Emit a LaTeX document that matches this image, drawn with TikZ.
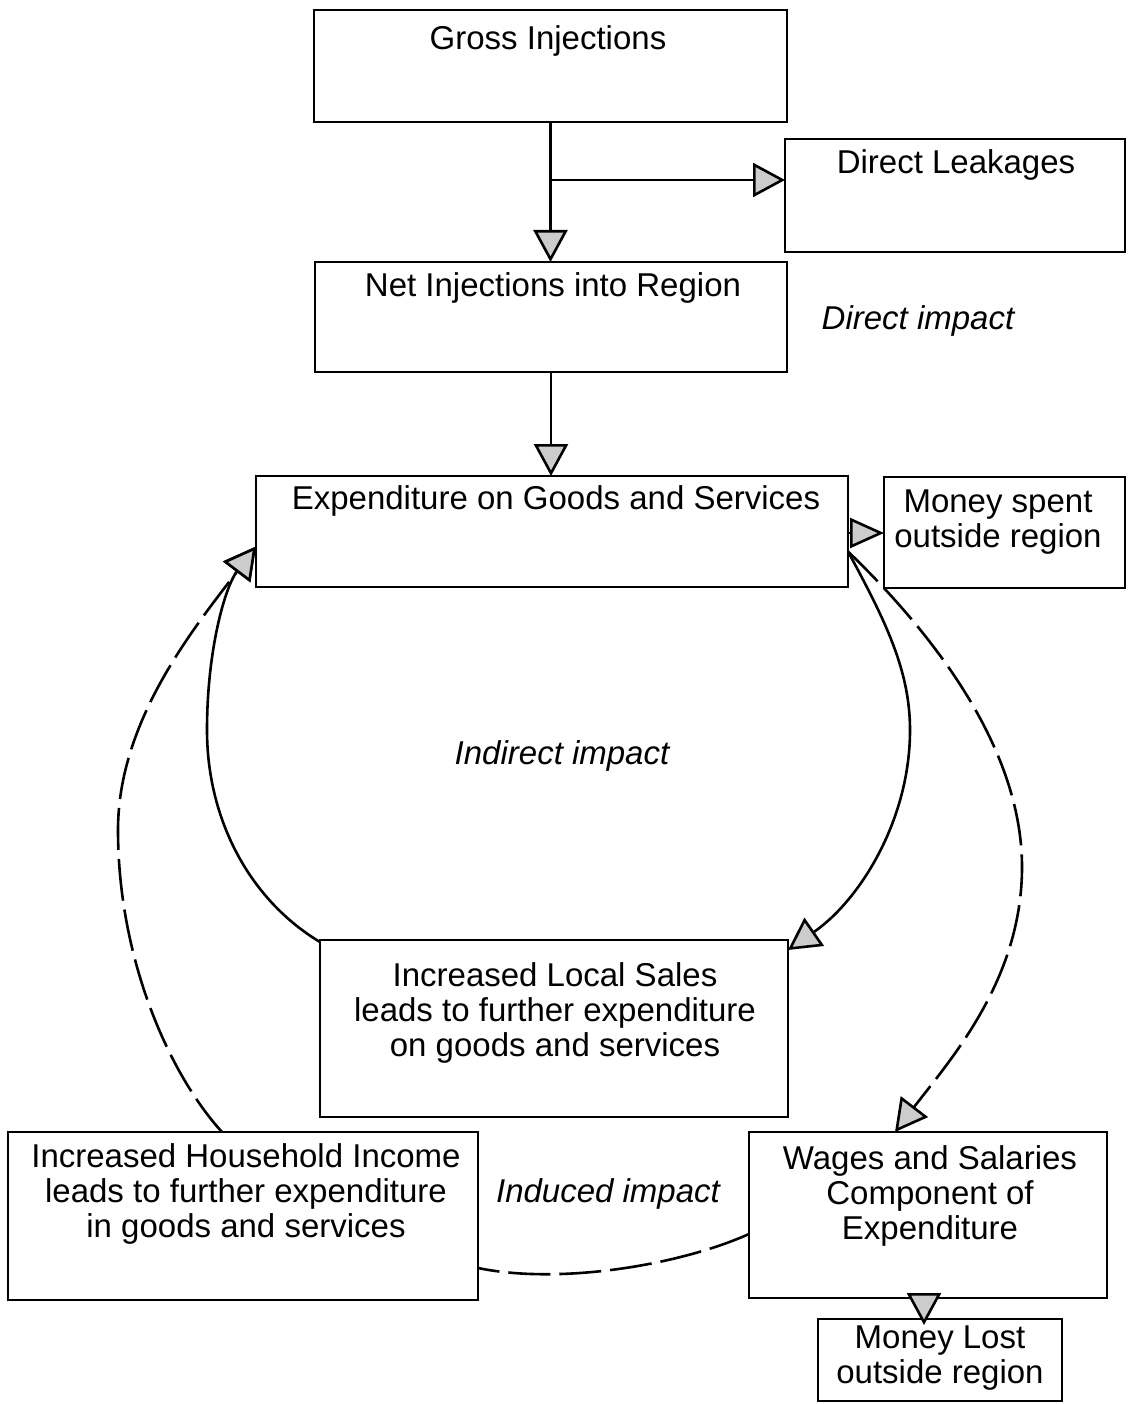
\documentclass[tikz,border=0pt]{standalone}
\usepackage{fontspec}
\setmainfont{Liberation Sans}
\usetikzlibrary{arrows.meta}
\begin{document}
\begin{tikzpicture}[x=1pt,y=-1pt,
  box/.style={draw, line width=2.8pt, inner sep=0pt, outer sep=0pt},
  lbl/.style={inner sep=0pt, align=center, font=\fontsize{33}{35}\selectfont},
  ital/.style={inner sep=0pt, font=\fontsize{33}{35}\selectfont\itshape},
  conn/.style={line width=2.6pt},
  arr/.style={conn, -{Triangle[length=32pt,width=34pt,fill=gray!40]}},
  arrs/.style={conn, -{Triangle[length=34pt,width=30pt,fill=gray!40]}},
  dsh/.style={dash pattern=on 42pt off 9pt}]
\fill[white] (0,0) rectangle (1127,1404);
\useasboundingbox (0,0) rectangle (1127,1404);

% boxes
\node[box, minimum width=473pt, minimum height=112pt] (gross) at (550.5,66) {};
\node[box, minimum width=340pt, minimum height=113pt] (leak) at (955,195.5) {};
\node[box, minimum width=472pt, minimum height=110pt] (net) at (551,317) {};
\node[box, minimum width=592pt, minimum height=111pt] (exp) at (552,531.5) {};
\node[box, minimum width=241pt, minimum height=111pt] (spent) at (1004.5,532.5) {};
\node[box, minimum width=468pt, minimum height=177pt] (sales) at (554,1028.5) {};
\node[box, minimum width=470pt, minimum height=168pt] (house) at (243,1216) {};
\node[box, minimum width=358pt, minimum height=166pt] (wages) at (928,1215) {};
\node[box, minimum width=244pt, minimum height=82pt] (lost) at (940,1360) {};

% texts
\node[lbl] (tgross) at (548,41) {Gross Injections};
\node[lbl] (tleak) at (956,165) {Direct Leakages};
\node[lbl] (tnet) at (553,288) {Net Injections into Region};
\node[ital] (tdirect) at (918,321) {Direct impact};
\node[lbl] (texp) at (556,501) {Expenditure on Goods and Services};
\node[lbl] (tspent) at (998,522) {Money spent\\outside region};
\node[ital] (tind) at (562,756) {Indirect impact};
\node[lbl] (tsales) at (555,1013) {Increased Local Sales\\leads to further expenditure\\on goods and services};
\node[lbl] (thouse) at (246,1194) {Increased Household Income\\leads to further expenditure\\in goods and services};
\node[ital] (tinduced) at (608,1194) {Induced impact};
\node[lbl] (twages) at (930,1196) {Wages and Salaries\\Component of\\Expenditure};
\node[lbl] (tlost) at (940,1358) {Money Lost\\outside region};

% straight connectors
\draw[arr] (gross.south) -- (gross.south |- net.north);
\draw[arr] (gross.south |- 0,180) -- (leak.west |- 0,180);
\draw[arr] (net.south) -- (net.south |- exp.north);
\draw[arrs] (exp.east |- 0,533) -- (spent.west |- 0,533);
\draw[arr] (924,0 |- wages.south) -- ([yshift=-6pt]924,0 |- lost.north);

% indirect loop (solid)
\draw[arr] ([yshift=-20pt]exp.east) .. controls (885,620) and (910,670) .. (910,730)
  .. controls (910,820) and (860,900) .. ([yshift=-10pt]sales.north east);
\draw[arr] ([yshift=-2pt]sales.north west) .. controls (250,900) and (207,820) .. (207,730)
  .. controls (207,650) and (225,587) .. ([yshift=-15pt]exp.west);

% induced loop (dashed)
\draw[arr, dsh] ([yshift=-20pt]exp.east) .. controls (950,650) and (1022,760) .. (1022,867)
  .. controls (1022,980) and (950,1060) .. (wages.north -| 895,0);
\draw[conn, dsh] ([yshift=-19pt]wages.west) .. controls (680,1265) and (560,1285) .. ([yshift=-52pt]house.east);
\draw[arr, dsh] (house.north -| 222,0) .. controls (170,1075) and (118,960) .. (118,830)
  .. controls (118,720) and (195,627) .. ([yshift=-15pt]exp.west);
\end{tikzpicture}
\end{document}
